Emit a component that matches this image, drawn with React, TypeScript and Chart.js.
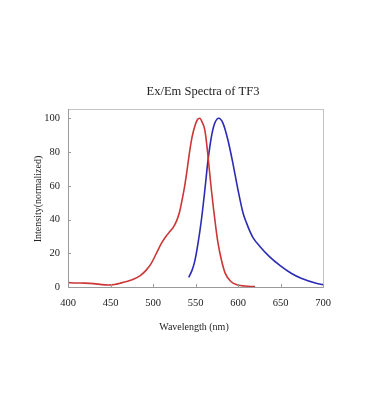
import React, { useEffect, useRef } from "react";
import { Chart, registerables } from "chart.js";

Chart.register(...registerables);

const chartTitle = "Ex/Em Spectra of TF3";
const xAxisTitle = "Wavelength (nm)";
const yAxisTitle = "Intensity(normalized)";

const xTicks = [400, 450, 500, 550, 600, 650, 700];
const yTicks = [0, 20, 40, 60, 80, 100];

const exWavelength = [400, 410, 420, 430, 440, 447, 455, 461, 470, 477, 485, 492, 498, 504, 510, 516, 520, 524, 528, 531, 534, 537, 540, 543, 546, 549, 552, 555, 558, 561, 564, 566, 568.7, 571.4, 573.8, 576.5, 580.5, 585, 592, 600, 608, 620];
const exIntensity = [2.6, 2.4, 2.3, 2.0, 1.4, 1.2, 1.5, 2.2, 3.4, 4.6, 6.8, 10, 14, 20, 26, 30.5, 33, 35.5, 39.5, 44, 51, 59, 69, 80, 89, 95, 99, 100, 97.5, 93, 81, 71, 57.5, 45.6, 35.7, 26, 16, 8.1, 3.1, 1.2, 0.6, 0.2];

const emWavelength = [542, 546, 549, 553, 557, 561, 564.7, 568.7, 572.6, 577.3, 582.4, 588.2, 594, 600, 606, 610, 614, 618, 625, 637, 650, 663, 675, 692, 700];
const emIntensity = [5.7, 10, 15, 26, 40, 57.5, 75, 89, 97, 100, 97, 87, 73.3, 57.5, 43.7, 38, 33, 29, 24.5, 18, 12.5, 8, 5, 2.2, 1.4];

const FONT = "'Liberation Serif', 'Times New Roman', serif";

export default function App() {
  const ref = useRef<HTMLCanvasElement | null>(null);

  useEffect(() => {
    if (!ref.current) return;
    const textPlugin = {
      id: "textPlugin",
      afterDraw(chart: any) {
        const ctx = chart.ctx;
        const a = chart.chartArea;
        const xs = chart.scales.x;
        const ys = chart.scales.y;
        ctx.save();
        ctx.strokeStyle = "#c4c4c4";
        ctx.lineWidth = 1;
        ctx.strokeRect(Math.round(a.left) + 0.5, Math.round(a.top) + 0.5, Math.round(a.right - a.left), Math.round(a.bottom - a.top));
        ctx.strokeStyle = "#9a9a9a";
        ctx.beginPath();
        ctx.moveTo(Math.round(a.left) + 0.5, Math.round(a.top));
        ctx.lineTo(Math.round(a.left) + 0.5, Math.round(a.bottom) + 0.5);
        ctx.lineTo(Math.round(a.right) + 0.5, Math.round(a.bottom) + 0.5);
        ctx.stroke();
        ctx.beginPath();
        xTicks.forEach((v) => {
          const px = Math.round(xs.getPixelForValue(v)) + 0.5;
          ctx.moveTo(px, a.bottom);
          ctx.lineTo(px, a.bottom - 3);
        });
        yTicks.forEach((v) => {
          const py = Math.round(ys.getPixelForValue(v)) + 0.5;
          ctx.moveTo(a.left, py);
          ctx.lineTo(a.left + 3, py);
        });
        ctx.stroke();
        ctx.fillStyle = "#222";
        ctx.textAlign = "center";
        ctx.textBaseline = "middle";
        ctx.font = `12.5px ${FONT}`;
        ctx.fillText(chartTitle, 203, 92);
        ctx.font = `10px ${FONT}`;
        ctx.fillText(xAxisTitle, 194, 327);
        ctx.translate(38, 199);
        ctx.rotate(-Math.PI / 2);
        ctx.fillText(yAxisTitle, 0, 0);
        ctx.restore();
      },
    };

    const chart = new Chart(ref.current, {
      type: "line",
      data: {
        datasets: [
          {
            label: "Ex",
            data: exWavelength.map((x, i) => ({ x, y: exIntensity[i] })),
            borderColor: "#cc3636",
            borderWidth: 1.6,
            pointRadius: 0,
            cubicInterpolationMode: "monotone",
            fill: false,
          },
          {
            label: "Em",
            data: emWavelength.map((x, i) => ({ x, y: emIntensity[i] })),
            borderColor: "#2b2bb5",
            borderWidth: 1.6,
            pointRadius: 0,
            cubicInterpolationMode: "monotone",
            fill: false,
          },
        ],
      },
      options: {
        animation: false,
        responsive: true,
        maintainAspectRatio: false,
        layout: { padding: { top: 109, right: 46, left: 0, bottom: 0 } },
        plugins: { legend: { display: false }, tooltip: { enabled: false }, title: { display: false } },
        scales: {
          x: {
            type: "linear",
            min: 400,
            max: 700,
            afterBuildTicks: (s: any) => {
              s.ticks = xTicks.map((v) => ({ value: v }));
            },
            afterFit: (s: any) => {
              s.height = 132;
            },
            grid: { display: false, drawTicks: false },
            border: { display: false },
            ticks: { padding: 10, color: "#222", font: { family: FONT, size: 10.5 }, maxRotation: 0 },
          },
          y: {
            type: "linear",
            min: 0,
            max: 105.5,
            afterBuildTicks: (s: any) => {
              s.ticks = yTicks.map((v) => ({ value: v }));
            },
            afterFit: (s: any) => {
              s.width = 68;
            },
            grid: { display: false, drawTicks: false },
            border: { display: false },
            ticks: { padding: 8, color: "#222", font: { family: FONT, size: 10.5 } },
          },
        },
      },
      plugins: [textPlugin],
    } as any);
    return () => chart.destroy();
  }, []);

  return (
    <div style={{ position: "absolute", left: 0, top: 0, width: 369, height: 419, background: "#fff" }}>
      <canvas ref={ref} />
    </div>
  );
}
